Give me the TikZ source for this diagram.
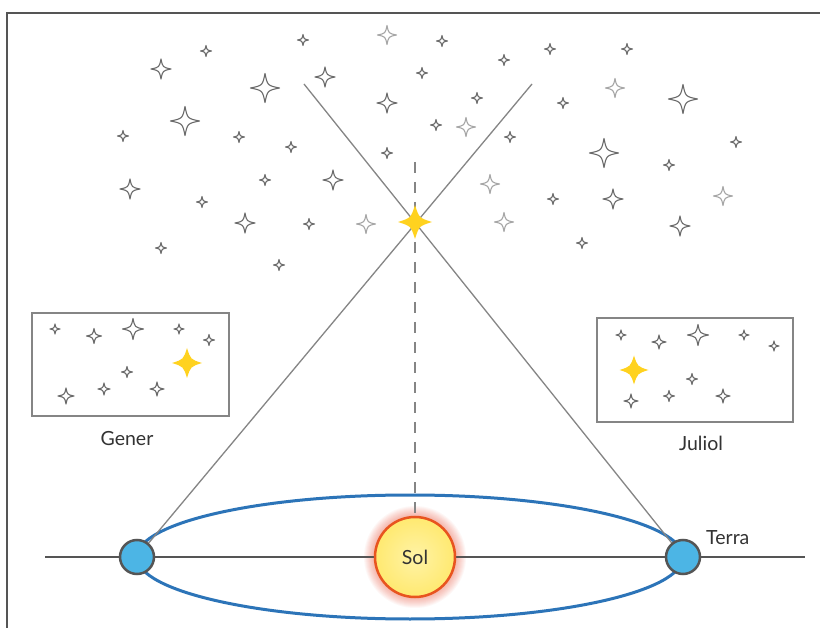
\documentclass[tikz,border=0pt]{standalone}
\usepackage{fontspec}
\setmainfont{Lato}
\definecolor{starGray}{HTML}{6A6A6A}
\definecolor{starLight}{HTML}{A6A6A6}
\definecolor{gold}{HTML}{FFD21F}
\definecolor{orbitBlue}{HTML}{2C74B8}
\definecolor{earthBlue}{HTML}{4CB5E5}
\definecolor{lineDark}{HTML}{555555}
\definecolor{rayGray}{HTML}{858585}
\definecolor{sunFillIn}{HTML}{FFF3A6}
\definecolor{sunFillOut}{HTML}{FFE970}
\definecolor{sunEdge}{HTML}{E8541F}
\definecolor{glowRed}{HTML}{F04A30}
\definecolor{textDark}{HTML}{333333}
\tikzset{
  pics/spark/.style={code={
    \path[pic actions] (0,-#1) .. controls ({0.17*#1},{-0.17*#1}) .. (#1,0)
      .. controls ({0.17*#1},{0.17*#1}) .. (0,#1)
      .. controls ({-0.17*#1},{0.17*#1}) .. (-#1,0)
      .. controls ({-0.17*#1},{-0.17*#1}) .. cycle;
  }},
  pics/bigspark/.style={code={
    \path[pic actions] (0,-#1) .. controls ({0.24*#1},{-0.24*#1}) .. (#1,0)
      .. controls ({0.24*#1},{0.24*#1}) .. (0,#1)
      .. controls ({-0.24*#1},{0.24*#1}) .. (-#1,0)
      .. controls ({-0.24*#1},{-0.24*#1}) .. cycle;
  }},
  darkstar/.style={draw=starGray, line width=1.1pt, line join=round},
  palestar/.style={draw=starLight, line width=1.1pt, line join=round},
  goldstar/.style={fill=gold},
  frameline/.style={draw=lineDark, line width=1.5pt},
  skybox/.style={draw=rayGray, line width=1.5pt, inner sep=0pt},
  label/.style={text=textDark, font=\fontsize{19.5}{22}\selectfont, inner sep=0pt},
  ray/.style={draw=rayGray, line width=1.3pt},
  axis/.style={draw=lineDark, line width=2.5pt},
  orbit/.style={draw=orbitBlue, line width=3pt},
  planet/.style={circle, fill=earthBlue, draw=lineDark, line width=2.5pt,
    minimum size=34pt, inner sep=0pt},
  star/.style={circle, draw=sunEdge, line width=2.5pt, inner color=sunFillIn,
    outer color=sunFillOut, minimum size=80pt, inner sep=0pt, text=textDark,
    font=\fontsize{19.5}{22}\selectfont},
}
\begin{document}
\begin{tikzpicture}[x=1pt,y=-1pt]
\useasboundingbox (0,0) rectangle (820,628);
\fill[white] (0,0) rectangle (820,628);

% frame (top and left edges)
\draw[frameline] (7,628) -- (7,13) -- (820,13);

% background stars
\foreach \x/\y in {303/40,206/51,123/136,239/137,291/147,387/153,265/180,
    202/202,309/224,161/248,279/265,442/41,504/60,550/49,627/49,422/73,
    477/98,563/103,436/125,510/137,736/142,669/165,553/199,582/243}
  \pic[darkstar] at (\x,\y) {spark=5.5};
\foreach \x/\y in {161/69,325/77,387/103,130/189,333/180,245/223,613/199,680/226}
  \pic[darkstar] at (\x,\y) {spark=10};
\foreach \x/\y in {265/88,185/121,683/99,604/153}
  \pic[darkstar] at (\x,\y) {spark=14.5};
\foreach \x/\y in {387/35,366/224,615/88,466/127,490/184,723/196,504/222}
  \pic[palestar] at (\x,\y) {spark=9.5};

% geometry of the two sightings
\coordinate (rayTopL) at (304,84);
\coordinate (rayTopR) at (532,84);
\coordinate (target) at (415,222);
\coordinate (dashTop) at (415,162);

% glow around the Sun
\foreach \k in {1,...,11}
  \fill[glowRed, opacity=0.045] (415,557) circle ({40+\k});

% orbit and ecliptic axis
\draw[orbit] (410,557) ellipse (273 and 62);
\draw[axis] (45,557) -- (805,557);

% Sun
\node[star] (sun) at (415,557) {Sol};
\draw[ray, dash pattern=on 11pt off 9pt] (dashTop) -- (sun.north);

% Earth positions
\coordinate (eL) at (137,557);
\coordinate (eR) at (683,557);
\draw[ray] (eL) -- (rayTopR);
\draw[ray] (eR) -- (rayTopL);
\node[planet] (earthL) at (eL) {};
\node[planet] (earthR) at (eR) {};
\node[label, anchor=south west] (terra) at (706,545) {Terra};

% the observed star
\pic[goldstar] at (target) {bigspark=17};

% January view
\node[skybox, minimum width=197pt, minimum height=103pt] (gener) at (130.5,364.5) {};
\foreach \x/\y/\r in {55/329/5,94/336/7.5,133/329/10.5,179/329/5,209/340/5.5,
    127/372/5.5,66/396/8,104/389/6,157/389/7}
  \pic[darkstar] at (\x,\y) {spark=\r};
\pic[goldstar] at (187,363) {bigspark=15};
\node[label] (generTxt) at (127,439) {Gener};

% July view
\node[skybox, minimum width=196pt, minimum height=104pt] (juliol) at (695,370) {};
\foreach \x/\y/\r in {621/335/5,659/342/7,698/335/10.5,744/335/5,774/346/5,
    692/379/5.5,631/401/7,669/396/5.5,723/396/7}
  \pic[darkstar] at (\x,\y) {spark=\r};
\pic[goldstar] at (634,370) {bigspark=14.5};
\node[label] (juliolTxt) at (701,443) {Juliol};
\end{tikzpicture}
\end{document}
